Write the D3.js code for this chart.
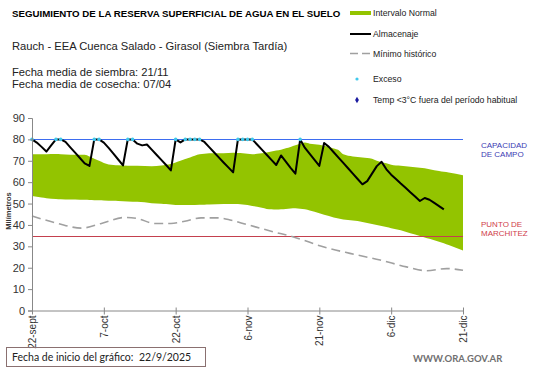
<!DOCTYPE html>
<html><head><meta charset="utf-8">
<script src="https://cdn.jsdelivr.net/npm/d3@7"></script>
<style>
html,body{margin:0;padding:0;background:#fff;}
svg{display:block;font-family:"Liberation Sans",Arial,sans-serif;}
</style></head>
<body>
<svg id="chart" width="541" height="368"></svg>
<script>
// ---- data ----
const xTickDays = [0, 15, 30, 45, 60, 75, 90];
const xTickLabels = ["22-sept", "7-oct", "22-oct", "6-nov", "21-nov", "6-dic", "21-dic"];
const yTicks = [0, 10, 20, 30, 40, 50, 60, 70, 80, 90];

const storageDays = d3.range(0, 87);
const storageVals = [80, 78.5, 76.5, 74.3, 77.2, 80, 80, 78.8, 76.3, 73.8,
  71.3, 68.8, 67.6, 80, 80, 78.5, 76, 73.3, 70.6, 67.8,
  80, 80, 78, 77.2, 77.6, 75.2, 72.8, 70.4, 68, 65.5,
  80, 78.6, 80, 80, 80, 80, 78.8, 76.4, 74, 71.6,
  69.2, 66.9, 64.6, 80, 80, 80, 80, 77.6, 75.2, 72.8,
  70.4, 68, 72.5, 69.6, 66.7, 64, 80, 76, 73.2, 70.4,
  67.6, 78.3, 76.5, 74, 71.5, 69, 66.5, 64, 61.5, 59,
  60.5, 64, 67.5, 69.5, 66, 63.5, 61.5, 59.4, 57.4, 55.3,
  53.3, 51.2, 52.6, 51.8, 50.3, 48.8, 47.3];

const excessDays = [0, 5, 6, 13, 14, 20, 21, 30, 32, 33, 34, 35, 43, 44, 45, 46, 56];
const excessVals = [80, 80, 80, 80, 80, 80, 80, 80, 80, 80, 80, 80, 80, 80, 80, 80, 80];

const upperDays = [0, 2, 5, 8, 11, 12, 13, 14, 15, 17, 20, 25, 27, 29, 31, 33, 35, 37, 40, 42, 44, 46, 48, 50, 52, 54, 56, 57, 58, 60, 62, 64, 65, 67, 69, 71, 72, 75, 78, 80, 82, 85, 87, 90];
const upperVals = [73, 73, 73.2, 72.8, 72.8, 72, 71, 70, 69, 68, 67.7, 67.5, 67.8, 68.5, 70, 71.5, 73, 73.5, 73.5, 73.7, 73.5, 73, 73.5, 74.3, 75.2, 76.5, 78, 78.5, 78, 77.5, 76.5, 75, 73, 72, 71.5, 71, 70, 68.2, 67.5, 67, 66.5, 65.2, 64.5, 63.2];
const lowerDays = [0, 3, 6, 10, 14, 18, 22, 25, 28, 30, 33, 36, 40, 43, 45, 47, 49, 51, 53, 55, 57, 60, 63, 65, 68, 71, 74, 77, 80, 83, 86, 90];
const lowerVals = [53.5, 52.5, 52, 51.8, 51.5, 51.2, 50.8, 50.2, 49.8, 49.3, 49.3, 49.5, 49.8, 49.8, 49.3, 48.5, 47.5, 47.2, 47.5, 47.8, 47.3, 45.5, 43.5, 42.5, 41.8, 40.5, 39, 37.5, 35.5, 33.5, 31.5, 28];

const minDays = [0, 5.4, 10.3, 14.5, 19.4, 22, 25.6, 29, 31.9, 35.3, 38.8, 41.6, 44.7, 50.4, 54.6, 60.8, 66.4, 72.7, 78.2, 82.4, 86.6, 90];
const minVals = [44.2, 40.7, 38.5, 40.7, 43.5, 43, 40.7, 40.7, 41.7, 43.3, 43.3, 42.2, 40.3, 36.8, 34.4, 29.8, 26.7, 23.6, 20.4, 18.6, 19.6, 18.8];

const fieldCapacity = 80;
const wiltingPoint = 35;

// ---- drawing ----
const svg = d3.select("#chart");
const x = d3.scaleLinear().domain([0, 90]).range([32, 463]);
const y = d3.scaleLinear().domain([0, 90]).range([310.5, 118]);

// band
const loInterp = d3.scaleLinear().domain(lowerDays).range(lowerVals);
const hiInterp = d3.scaleLinear().domain(upperDays).range(upperVals);
const bandDays = Array.from(new Set([...upperDays, ...lowerDays])).sort((a, b) => a - b);
const bandPts = bandDays.map(d => ({ d, lo: loInterp(d), hi: hiInterp(d) }));
svg.append("path").datum(bandPts)
  .attr("d", d3.area().x(p => x(p.d)).y0(p => y(p.lo)).y1(p => y(p.hi)).curve(d3.curveMonotoneX))
  .attr("fill", "#93c400");

// reference lines (snapped to pixel grid for crispness)
const yCap = Math.round(y(fieldCapacity)) + 0.5;
const yWilt = Math.round(y(wiltingPoint)) + 0.5;
svg.append("line").attr("x1", x(0)).attr("x2", x(90)).attr("y1", yCap).attr("y2", yCap)
  .attr("stroke", "#3d6cf0").attr("stroke-width", 1);
svg.append("line").attr("x1", x(0)).attr("x2", x(90)).attr("y1", yWilt).attr("y2", yWilt)
  .attr("stroke", "#c4404e").attr("stroke-width", 1);

// historic minimum
const minPts = minDays.map((d, i) => ({ d, v: minVals[i] }));
svg.append("path").datum(minPts)
  .attr("d", d3.line().x(p => x(p.d)).y(p => y(p.v)).curve(d3.curveMonotoneX))
  .attr("fill", "none").attr("stroke", "#a0a0a0").attr("stroke-width", 1.6).attr("stroke-dasharray", "9,5");

// storage
const stPts = storageDays.map((d, i) => ({ d, v: storageVals[i] }));
svg.append("path").datum(stPts)
  .attr("d", d3.line().x(p => x(p.d)).y(p => y(p.v)))
  .attr("fill", "none").attr("stroke", "#000").attr("stroke-width", 2).attr("stroke-linejoin", "round");

// excess markers
svg.append("g").selectAll("circle").data(excessDays.map((d, i) => ({ d, v: excessVals[i] })))
  .join("circle")
  .attr("cx", p => x(p.d)).attr("cy", p => y(p.v)).attr("r", 1.8)
  .attr("fill", "#40c8ec");

// axes
const yAxis = d3.axisLeft(y).tickValues(yTicks).tickSize(4).tickPadding(3);
const gy = svg.append("g").attr("transform", `translate(${x(0)},0)`).call(yAxis);
gy.select(".domain").attr("stroke", "#888");
gy.selectAll(".tick line").attr("stroke", "#888");
gy.selectAll("text").attr("font-size", 11).attr("fill", "#333").attr("font-family", "Liberation Sans, Arial");

const xAxis = d3.axisBottom(x).tickValues(xTickDays).tickFormat((d, i) => xTickLabels[i]).tickSize(4).tickSizeOuter(0);
const gx = svg.append("g").attr("transform", `translate(0,${y(0)})`).call(xAxis);
gx.select(".domain").attr("stroke", "#888");
gx.selectAll(".tick line").attr("stroke", "#888").attr("y1", -3);
gx.selectAll("text").attr("font-size", 10).attr("fill", "#333").attr("font-family", "Liberation Sans, Arial")
  .attr("transform", "rotate(-90)").attr("text-anchor", "end").attr("x", -5).attr("y", 0).attr("dy", "0.35em");

svg.append("text").attr("transform", "translate(11,211) rotate(-90)").attr("text-anchor", "middle")
  .attr("font-size", 7.5).attr("font-weight", "bold").attr("fill", "#333").text("Milímetros");

// line labels
const lab = svg.append("g").attr("font-size", 8).attr("font-family", "Liberation Sans, Arial");
lab.append("text").attr("x", 481).attr("y", 148).attr("fill", "#3c3cb4").text("CAPACIDAD");
lab.append("text").attr("x", 481).attr("y", 157).attr("fill", "#3c3cb4").text("DE  CAMPO");
lab.append("text").attr("x", 481).attr("y", 227).attr("fill", "#d0404a").text("PUNTO  DE");
lab.append("text").attr("x", 481).attr("y", 236).attr("fill", "#d0404a").text("MARCHITEZ");

// titles
svg.append("text").attr("x", 12).attr("y", 17).attr("font-size", 9.7).attr("font-weight", "bold").attr("fill", "#000")
  .text("SEGUIMIENTO DE LA RESERVA  SUPERFICIAL DE AGUA EN EL SUELO");
svg.append("text").attr("x", 12).attr("y", 50).attr("font-size", 11.2).attr("fill", "#222")
  .text("Rauch  - EEA Cuenca Salado - Girasol (Siembra Tardía)");
svg.append("text").attr("x", 12).attr("y", 76).attr("font-size", 11.2).attr("fill", "#222").text("Fecha media de siembra: 21/11");
svg.append("text").attr("x", 12).attr("y", 88).attr("font-size", 11.2).attr("fill", "#222").text("Fecha media de cosecha: 07/04");

// legend
const lg = svg.append("g").attr("font-size", 8.7).attr("fill", "#222");
lg.append("rect").attr("x", 350).attr("y", 11).attr("width", 21).attr("height", 4).attr("fill", "#93c400");
lg.append("text").attr("x", 373).attr("y", 16).text("Intervalo Normal");
lg.append("line").attr("x1", 350).attr("x2", 371).attr("y1", 34).attr("y2", 34).attr("stroke", "#000").attr("stroke-width", 2);
lg.append("text").attr("x", 373).attr("y", 37).text("Almacenaje");
lg.append("line").attr("x1", 350).attr("x2", 371).attr("y1", 53.5).attr("y2", 53.5).attr("stroke", "#a0a0a0").attr("stroke-width", 1.6).attr("stroke-dasharray", "8,4");
lg.append("text").attr("x", 373).attr("y", 57).text("Mínimo histórico");
lg.append("circle").attr("cx", 357).attr("cy", 79).attr("r", 1.6).attr("fill", "#40c8ec");
lg.append("text").attr("x", 373).attr("y", 82).text("Exceso");
lg.append("path").attr("d", d3.symbol().type(d3.symbolDiamond).size(12)).attr("transform", "translate(357,100)").attr("fill", "#1a1aa0");
lg.append("text").attr("x", 373).attr("y", 103).text("Temp <3°C fuera del período habitual");

// bottom box
svg.append("rect").attr("x", 6.5).attr("y", 347.5).attr("width", 199).attr("height", 19).attr("fill", "none").attr("stroke", "#8a7070");
svg.append("text").attr("x", 12).attr("y", 361).attr("font-size", 10.5).attr("fill", "#222").attr("font-family", "Lato, sans-serif").text("Fecha de inicio del gráfico:");
svg.append("text").attr("x", 139).attr("y", 361).attr("font-size", 10.5).attr("fill", "#222").attr("font-family", "Lato, sans-serif").text("22/9/2025");
svg.append("text").attr("x", 413).attr("y", 362).attr("font-size", 9.5).attr("font-weight", "bold").attr("fill", "#707070").attr("font-family", "Lato, sans-serif").text("WWW.ORA.GOV.AR");
</script>
</body></html>
